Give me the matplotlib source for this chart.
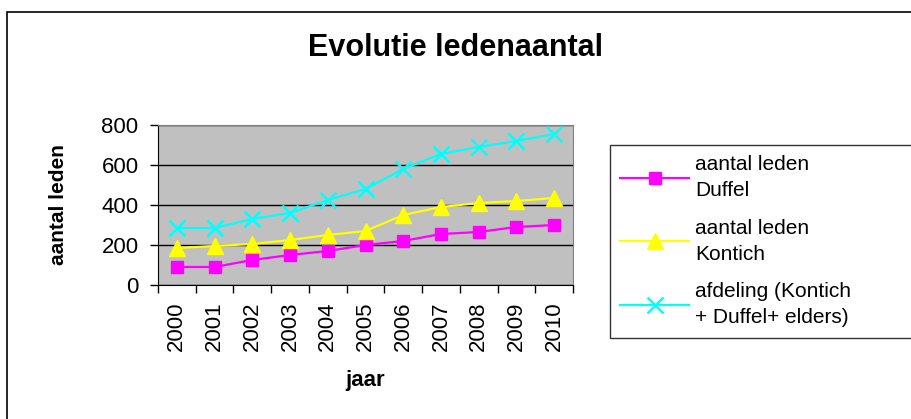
import matplotlib.pyplot as plt
from matplotlib.patches import Rectangle
from matplotlib.ticker import FixedLocator

plt.rcParams['font.family'] = ['Liberation Sans', 'DejaVu Sans']

# data
jaren = ['2000', '2001', '2002', '2003', '2004', '2005',
         '2006', '2007', '2008', '2009', '2010']
duffel = [90, 90, 125, 150, 170, 200, 220, 255, 265, 290, 300]
kontich = [185, 195, 205, 225, 250, 270, 350, 390, 410, 420, 435]
afdeling = [285, 285, 330, 360, 425, 480, 580, 655, 690, 720, 755]

labels = ['aantal leden\nDuffel',
          'aantal leden\nKontich',
          'afdeling (Kontich\n+ Duffel+ elders)']

W, H = 912, 419
fig = plt.figure(figsize=(W / 100, H / 100), dpi=100)

# outer chart frame (only left/top visible, rest cut off)
fig.patches.append(Rectangle((7 / W, -0.1), 1.2, 1.1 - 12 / H,
                             transform=fig.transFigure, fill=False,
                             edgecolor='black', linewidth=1.2))

ax = fig.add_axes([158 / W, 1 - 285 / H, (573 - 158) / W, (285 - 125) / H])
ax.set_facecolor('#C0C0C0')

x = list(range(len(jaren)))
ax.plot(x, duffel, color='#FF00FF', marker='s', markersize=9, linewidth=1.6,
        label=labels[0])
ax.plot(x, kontich, color='#FFFF00', marker='^', markersize=11, linewidth=1.6,
        label=labels[1])
ax.plot(x, afdeling, color='#00FFFF', marker='x', markersize=11,
        markeredgewidth=1.8, linewidth=1.6, label=labels[2])

ax.set_xlim(-0.5, len(jaren) - 0.5)
ax.set_ylim(0, 800)
ax.set_yticks([0, 200, 400, 600, 800])
ax.yaxis.grid(True, color='black', linewidth=1)
ax.set_axisbelow(True)

ax.set_xticks(x)
ax.set_xticklabels(jaren, rotation=90, fontsize=16)
ax.xaxis.set_minor_locator(FixedLocator([i - 0.5 for i in range(len(jaren) + 1)]))
ax.tick_params(axis='x', which='major', length=0, pad=12)
ax.tick_params(axis='x', which='minor', length=6, width=1, direction='out')
ax.tick_params(axis='y', labelsize=16, length=6, width=1, pad=8)

for s in ['top', 'right']:
    ax.spines[s].set_color('#808080')
for s in ['left', 'bottom']:
    ax.spines[s].set_color('black')

ax.set_xlabel('jaar', fontsize=16, fontweight='bold')
ax.set_ylabel('aantal leden', fontsize=15, fontweight='bold')
ax.xaxis.set_label_coords(0.5, (285 - 370) / 160)
ax.yaxis.set_label_coords((68 - 158) / 415, 0.5)

fig.text(456 / W, 1 - 48 / H, 'Evolutie ledenaantal', fontsize=22,
         fontweight='bold', ha='center', va='center')

leg = fig.legend(loc='upper left',
                 bbox_to_anchor=(610 / W, 1 - 362 / H, 320 / W, 217 / H),
                 mode='expand',
                 fontsize=15, frameon=True, fancybox=False,
                 handlelength=3.3, labelspacing=0.9, borderpad=0.5,
                 handletextpad=0.3, borderaxespad=0)
for t in leg.get_texts():
    t.set_linespacing(1.45)
leg.get_frame().set_edgecolor('black')
leg.get_frame().set_linewidth(1)

fig.savefig('out.png', dpi=100)
